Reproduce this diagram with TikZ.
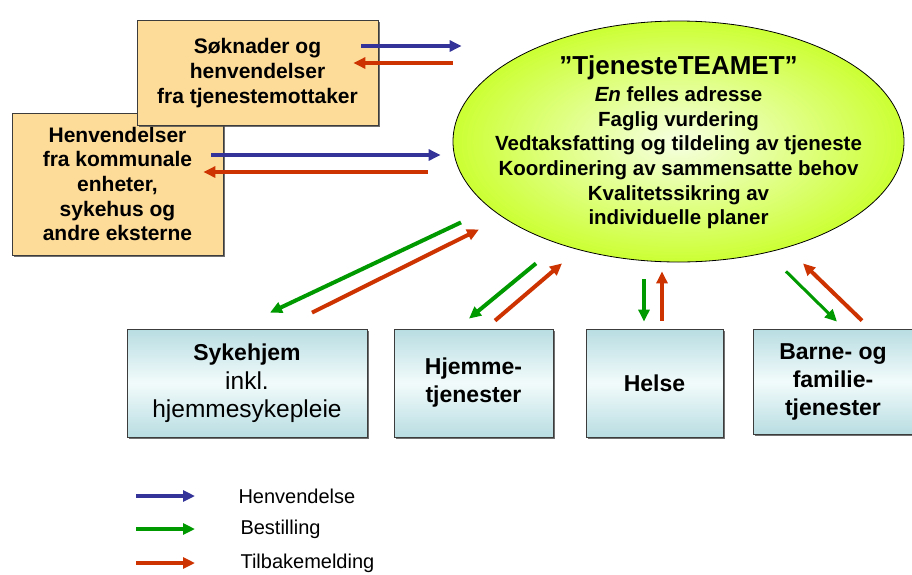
\documentclass[tikz,border=0pt]{standalone}
\usepackage{fontspec}
\setmainfont{Liberation Sans}
\definecolor{henvblue}{RGB}{51,51,153}
\definecolor{bestgreen}{RGB}{0,153,0}
\definecolor{tilbred}{RGB}{204,51,0}
\definecolor{boxorange}{RGB}{253,219,153}
\definecolor{edgegray}{RGB}{60,60,60}
\definecolor{tealdark}{RGB}{184,221,226}
\definecolor{teallight}{RGB}{242,251,251}
\definecolor{limeouter}{RGB}{204,255,51}
\definecolor{limeinner}{RGB}{246,255,226}
\usetikzlibrary{arrows.meta,shapes.geometric,shadows,calc}
\newcommand{\plainline}[1]{{\mdseries\fontsize{24.5}{29}\selectfont #1}}

\begin{document}
\begin{tikzpicture}[x=1pt,y=-1pt,
  obox/.style={draw=edgegray,fill=boxorange,line width=0.8pt,inner sep=0pt,
               drop shadow={shadow xshift=1.5pt,shadow yshift=-1.5pt,fill=black!70,opacity=0.8},
               font=\fontsize{21}{24.6}\selectfont\bfseries,align=center},
  tbox/.style={draw=edgegray,line width=0.8pt,inner sep=0pt,
               top color=tealdark,bottom color=tealdark,middle color=teallight,
               drop shadow={shadow xshift=1.5pt,shadow yshift=-1.5pt,fill=black!70,opacity=0.8},
               minimum height=108pt,
               font=\fontsize{23}{28}\selectfont\bfseries,align=center},
  henv/.style={draw=henvblue,line width=4pt,-{Triangle[length=12pt,width=11pt]}},
  best/.style={draw=bestgreen,line width=4pt,-{Triangle[length=12pt,width=11pt]}},
  tilb/.style={draw=tilbred,line width=4pt,-{Triangle[length=12pt,width=11pt]}},
  legend/.style={anchor=west,font=\fontsize{20}{24}\selectfont}
]
  \useasboundingbox (0,0) rectangle (912,574);

  % boxes
  \node[obox,minimum width=211pt,minimum height=142pt] (eksterne) at (117.5,184)
    {Henvendelser\\fra kommunale\\enheter,\\sykehus og\\andre eksterne};
  \node[obox,minimum width=241pt,minimum height=105pt] (soknad) at (257.5,73)
    {Søknader og\\henvendelser\\fra tjenestemottaker};

  \node[ellipse,draw=black,line width=0.8pt,inner color=limeinner,outer color=limeouter,
        minimum width=451pt,minimum height=241pt] (team) at (678.5,141.5) {};
  \node[font=\fontsize{20.5}{24.6}\selectfont\bfseries,align=center] (teamtext) at (678.5,142)
    {{\fontsize{26}{28}\selectfont ”TjenesteTEAMET”}\\[3pt]
     \textit{En} felles adresse\\Faglig vurdering\\Vedtaksfatting og tildeling av tjeneste\\
     Koordinering av sammensatte behov\\Kvalitetssikring av\\individuelle planer};

  \node[tbox,minimum width=240pt] (syke) at (247,383)
    {Sykehjem\\[1pt]\plainline{inkl.}\\\plainline{hjemmesykepleie}};
  \node[tbox,minimum width=159pt] (hjemme) at (473.5,383) {Hjemme-\\tjenester};
  \node[tbox,minimum width=137pt] (helse) at (654.5,383) {Helse};
  \node[tbox,minimum width=160pt,minimum height=105pt] (barne) at (833,381.5)
    {Barne- og\\familie-\\tjenester};

  % arrows
  \draw[henv] ($(soknad.east)+(-17,-27)$) -- ($(team.west)+(9,-95.5)$);
  \draw[tilb] ($(team.west)+(0,-78.5)$) -- ($(soknad.east)+(-25,-10)$);
  \draw[henv] ($(eksterne.east)+(-12,-29)$) -- ($(team.west)+(-12,13.5)$);
  \draw[tilb] ($(team.west)+(-25,30.5)$) -- ($(eksterne.east)+(-20,-12)$);

  \draw[best] ($(team.south)+(-217.5,-40)$) -- ($(syke.north)+(23,-16)$);
  \draw[tilb] ($(syke.north)+(65,-16)$) -- ($(team.south)+(-199.5,-33)$);
  \draw[best] ($(team.south)+(-142.5,1)$) -- ($(hjemme.north)+(-4.5,-10)$);
  \draw[tilb] ($(hjemme.north)+(21.5,-8)$) -- ($(team.south)+(-116.5,1)$);
  \draw[best] ($(team.south)+(-34.5,17)$) -- ($(helse.north)+(-10.5,-7)$);
  \draw[tilb] ($(helse.north)+(7.5,-8)$) -- ($(team.south)+(-16.5,9)$);
  \draw[best,line width=3pt] ($(team.south)+(107.5,9)$) -- ($(barne.north)+(4,-7)$);
  \draw[tilb] ($(barne.north)+(29,-8)$) -- ($(team.south)+(124.5,1)$);

  % legend
  \node[legend] (lhenv) at (235,496) {Henvendelse};
  \node[legend] (lbest) at (237,529) {Bestilling};
  \node[legend] (ltilb) at (237,563) {Tilbakemelding};
  \draw[henv] ($(lhenv.west)+(-99,0)$) -- ($(lhenv.west)+(-40,0)$);
  \draw[best] ($(lbest.west)+(-101,0)$) -- ($(lbest.west)+(-42,0)$);
  \draw[tilb] ($(ltilb.west)+(-101,0)$) -- ($(ltilb.west)+(-42,0)$);
\end{tikzpicture}
\end{document}
